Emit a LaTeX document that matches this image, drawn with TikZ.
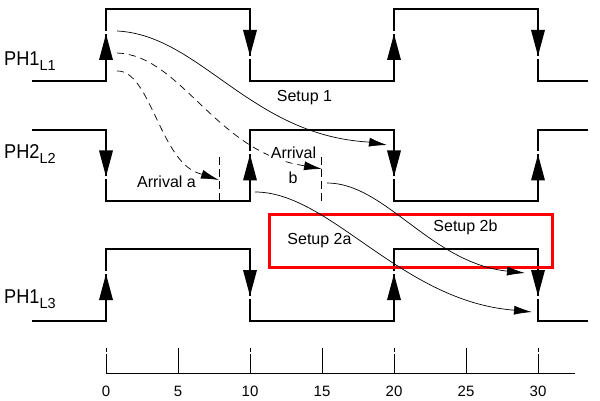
\documentclass[tikz,border=0pt]{standalone}
\usepackage{fontspec}
\setmainfont{Liberation Sans}
\newfontfamily\phfont[FakeStretch=0.91]{Liberation Sans}
\usetikzlibrary{arrows.meta}

\newcommand{\phlabel}[2]{{\phfont\fontsize{20}{20}\selectfont #1}\raisebox{-5pt}{\rmfamily\fontsize{14.5}{14.5}\selectfont #2}}

\begin{document}
\begin{tikzpicture}[x=1pt,y=-1pt,
  sig/.style={line width=2.8pt, line join=miter},
  conn/.style={line width=0.7pt, -{Latex[length=18pt,width=9pt]}},
  dconn/.style={conn, dash pattern=on 7pt off 5pt},
  vdash/.style={line width=0.9pt, dash pattern=on 8pt off 4pt},
  axisline/.style={line width=1pt},
  lbl/.style={font=\fontsize{16}{16}\selectfont, inner sep=0pt, anchor=base},
  ticklbl/.style={font=\fontsize{15}{15}\selectfont, inner sep=0pt, anchor=base},
  phlbl/.style={inner sep=0pt, anchor=base west},
  redbox/.style={draw=red, line width=3pt},
  uptri/.pic={\draw[white,line width=4pt] (0,-11) -- (0,-14);
              \fill[black] (0,-11) -- (-7,15) -- (7,15) -- cycle;},
  dntri/.pic={\draw[white,line width=4pt] (0,11) -- (0,14);
              \fill[black] (0,11) -- (-7,-15) -- (7,-15) -- cycle;}
]
\useasboundingbox (0,0) rectangle (600,401);

% ---- signal labels
\node[phlbl] (lab1) at (4,65.5) {\phlabel{PH1}{L1}};
\node[phlbl] (lab2) at (4,159) {\phlabel{PH2}{L2}};
\node[phlbl] (lab3) at (4,303.5) {\phlabel{PH1}{L3}};

% ---- signals
\draw[sig] (32,81) -| (106,9) -| (250,81) -| (394,9) -| (538,81) -- (588,81);
\draw[sig] (32,130) -| (106,201) -| (250,130) -| (394,201) -| (538,130) -- (588,130);
\draw[sig] (32,321) -| (106,249) -| (250,321) -| (394,249) -| (538,321) -- (588,321);

% ---- edge arrows
\pic at (106,45) {uptri};
\pic at (250,45) {dntri};
\pic at (394,45) {uptri};
\pic at (538,45) {dntri};
\pic at (106,165.5) {dntri};
\pic at (250,165.5) {uptri};
\pic at (394,165.5) {dntri};
\pic at (538,165.5) {uptri};
\pic at (106,285) {uptri};
\pic at (250,285) {dntri};
\pic at (394,285) {uptri};
\pic at (538,285) {dntri};

% ---- vertical dashed markers
\coordinate (ma1) at (219,157);
\coordinate (ma2) at (219,201);
\coordinate (mb1) at (321.7,157);
\coordinate (mb2) at (321.7,201);
\draw[vdash] (ma1) -- (ma2);
\draw[vdash] (mb1) -- (mb2);

% ---- red box
\draw[redbox] (269,214) rectangle (552,267);

% ---- connectors
\coordinate (s1a) at (117,31);
\coordinate (s1b) at (368,142);
\coordinate (s1c) at (387,145);
\draw[conn] (s1a) .. controls (200,35) and (250,135) .. (s1b) -- (s1c);

\coordinate (aa) at (117,71);
\coordinate (ab) at (198,173);
\coordinate (ac) at (219,180);
\draw[dconn] (aa) .. controls (150,70) and (160,160) .. (ab) -- (ac);

\coordinate (ba) at (117,53);
\coordinate (bb) at (300,165);
\coordinate (bc) at (322,169);
\draw[dconn] (ba) .. controls (180,55) and (215,150) .. (bb) -- (bc);

\coordinate (s2ba) at (327,183);
\coordinate (s2bb) at (506,271);
\coordinate (s2bc) at (525,273);
\draw[conn] (s2ba) .. controls (385,183) and (430,262) .. (s2bb) -- (s2bc);

\coordinate (s2aa) at (255,192);
\coordinate (s2ab) at (512,310);
\coordinate (s2ac) at (532,312);
\draw[conn] (s2aa) .. controls (330,192) and (400,300) .. (s2ab) -- (s2ac);

% ---- text labels
\node[lbl] (t1) at (304.5,102) {Setup 1};
\node[lbl, fill=white, inner sep=2pt] (tarb) at (293.5,159) {Arrival};
\node[lbl] (tb) at (293,184) {b};
\node[lbl] (tara) at (166.5,188) {Arrival a};
\node[lbl] (t2a) at (319.5,244) {Setup 2a};
\node[lbl] (t2b) at (465.5,231) {Setup 2b};

% ---- time axis
\draw[axisline] (106,373) -- (575,373);
\foreach \t in {0,10,20,30}{
  \pgfmathsetmacro{\xx}{106+14.4*\t}
  \draw[axisline] (\xx,348) -- (\xx,351.5);
  \draw[axisline] (\xx,354) -- (\xx,373);
}
\foreach \t in {5,15,25}{
  \pgfmathsetmacro{\xx}{106+14.4*\t}
  \draw[axisline] (\xx,348) -- (\xx,373);
}
\foreach \t in {0,5,...,30}{
  \pgfmathsetmacro{\xx}{106+14.4*\t}
  \node[ticklbl] (n\t) at (\xx,396) {\t};
}
\end{tikzpicture}
\end{document}
